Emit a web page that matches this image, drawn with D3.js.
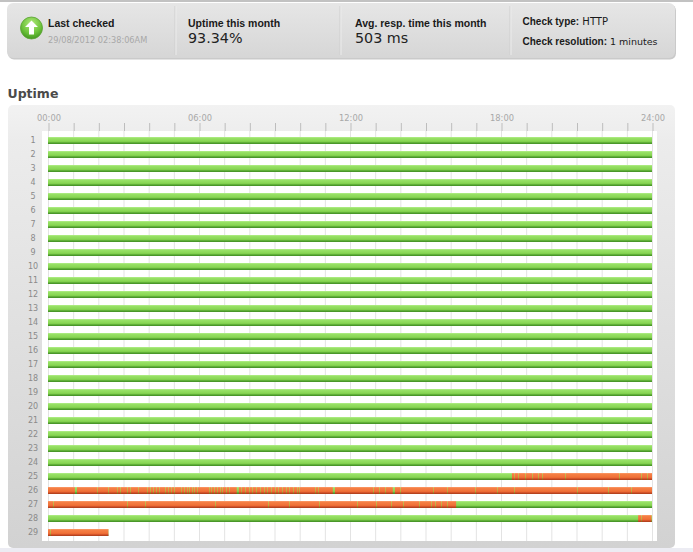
<!DOCTYPE html>
<html>
<head>
<meta charset="utf-8">
<script src="https://cdn.jsdelivr.net/npm/d3@7"></script>
<style>
  body { margin: 0; background: #fff; }
  svg { display: block; }
</style>
</head>
<body>
<svg id="chart" width="693" height="552"></svg>
<script>
// ---- data (minutes of the day) ----
const dayLabels = [1, 2, 3, 4, 5, 6, 7, 8, 9, 10, 11, 12, 13, 14, 15, 16, 17, 18, 19, 20,
                   21, 22, 23, 24, 25, 26, 27, 28, 29];
const dayMinutes = 1440;
const lastDay = 29;
const lastDayEnd = 144;          // checks for the 29th stop at 02:24

const hourTicks = [0, 60, 120, 180, 240, 300, 360, 420, 480, 540, 600, 660, 720,
                   780, 840, 900, 960, 1020, 1080, 1140, 1200, 1260, 1320, 1380, 1440];
const hourLabels = { 0: '00:00', 360: '06:00', 720: '12:00', 1080: '18:00', 1440: '24:00' };

// down periods per day
const outageDays  = [25, 26, 27, 28, 29];
const outageStart = [1106, 0, 0, 1407, 0];
const outageEnd   = [1440, 1440, 973, 1440, 144];

// short "up" blips inside the down periods (about a minute each)
const blips25 = [1112, 1121, 1137, 1155, 1168, 1178, 1232, 1362, 1413, 1428];
const blips26 = [117, 143, 164, 172, 189, 195, 215, 237, 243, 250, 257, 265, 279, 287, 293,
                 300, 316, 324, 331, 337, 343, 349, 356, 383, 389, 396, 403, 410, 416, 424,
                 432, 459, 470, 480, 487, 496, 506, 515, 523, 531, 541, 549, 559, 567, 575,
                 585, 593, 599, 637, 644, 776, 790, 803, 840, 917, 952, 1017, 1071, 1112,
                 1260, 1336, 1389];
const blips27 = [13, 188, 231, 397, 524, 574, 646, 736, 781, 817, 847, 885, 912, 923, 936, 951];
const blips28 = [1413, 1437];
const blips29 = [5];
const blipDays = [25, 26, 27, 28, 29];
const blipLists = [blips25, blips26, blips27, blips28, blips29];
// longer up periods on the 26th
const longBlips26 = [64, 450, 679, 822];
const longBlipLength = 5;

// ---- layout ----
const svg = d3.select('#chart');
const W = 693;
const plot = { left: 42, right: 657, top: 131, bottom: 541 };

const x = d3.scaleLinear().domain([0, dayMinutes]).range([48, 652]);
const y = d3.scaleBand().domain(dayLabels).range([133.5, 539.5])
    .paddingInner(0.5).paddingOuter(0.25);

const defs = svg.append('defs');
function vGrad(id, stops) {
    const g = defs.append('linearGradient').attr('id', id)
        .attr('x1', 0).attr('y1', 0).attr('x2', 0).attr('y2', 1);
    stops.forEach(s => g.append('stop').attr('offset', s[0]).attr('stop-color', s[1]));
}
vGrad('g-up', [[0, '#b4ef8c'], [0.18, '#98e166'], [0.62, '#87d552'], [0.78, '#62b139'], [1, '#3e8a22']]);
vGrad('g-down', [[0, '#fb9d6c'], [0.18, '#f57f45'], [0.62, '#f07036'], [0.78, '#d6552b'], [1, '#a63a18']]);
vGrad('g-blip', [[0, '#dccb80'], [0.18, '#c9b84e'], [0.62, '#bdab40'], [0.78, '#a08a2c'], [1, '#7a6418']]);
vGrad('g-head', [[0, '#e6e6e6'], [1, '#d6d6d6']]);
vGrad('g-panel', [[0, '#f2f2f2'], [0.08, '#ececec'], [1, '#d2d2d2']]);
const rg = defs.append('radialGradient').attr('id', 'g-icon')
    .attr('cx', 0.5).attr('cy', 0.3).attr('r', 0.75);
rg.append('stop').attr('offset', 0).attr('stop-color', '#b2ea7c');
rg.append('stop').attr('offset', 0.6).attr('stop-color', '#6cc23a');
rg.append('stop').attr('offset', 1).attr('stop-color', '#3b8f1c');

// ---- header strip ----
svg.append('rect').attr('x', 0).attr('y', 0).attr('width', W).attr('height', 2).attr('fill', '#c2c2c2');
svg.append('rect').attr('x', 8).attr('y', 4.5).attr('width', 668).attr('height', 55)
    .attr('rx', 6).attr('fill', '#cacaca');
svg.append('rect').attr('x', 7).attr('y', 3).attr('width', 668).attr('height', 55)
    .attr('rx', 6).attr('fill', 'url(#g-head)');
[175, 340, 510].forEach(d => {
    svg.append('line').attr('x1', d).attr('x2', d).attr('y1', 6).attr('y2', 55)
        .attr('stroke', '#cfcfcf');
    svg.append('line').attr('x1', d + 1).attr('x2', d + 1).attr('y1', 6).attr('y2', 55)
        .attr('stroke', '#ececec');
});

// status icon
svg.append('circle').attr('cx', 31.5).attr('cy', 28).attr('r', 11)
    .attr('fill', 'url(#g-icon)').attr('stroke', '#5aa234').attr('stroke-width', 0.8);
svg.append('path').attr('d', 'M31.5,20.5 L38,27 L34,27 L34,34.5 L29,34.5 L29,27 L25,27 Z')
    .attr('fill', '#fff');

const bold = 'Liberation Sans, Arial, sans-serif';
const reg = 'DejaVu Sans, Verdana, sans-serif';
function txt(t, px, py, size, weight, fill, family) {
    return svg.append('text').attr('x', px).attr('y', py)
        .style('font-family', family).style('font-size', size + 'px')
        .style('font-weight', weight).attr('fill', fill).text(t);
}
txt('Last checked', 48, 26.5, 10.5, 'bold', '#1a1a1a', bold);
txt('29/08/2012 02:38:06AM', 48, 42.7, 8.2, 'normal', '#a8a8a8', reg);
txt('Uptime this month', 188, 26.5, 10.5, 'bold', '#1a1a1a', bold);
txt('93.34%', 188, 42.7, 14.3, 'normal', '#222', reg);
txt('Avg. resp. time this month', 355, 26.5, 10.5, 'bold', '#1a1a1a', bold);
txt('503 ms', 355, 42.5, 14.3, 'normal', '#222', reg);

const ct = txt('Check type:', 522.5, 24.5, 10, 'bold', '#1a1a1a', bold);
ct.append('tspan').style('font-family', reg).style('font-weight', 'normal')
    .style('font-size', '10px').text(' HTTP');
const cr = txt('Check resolution:', 522.5, 44.5, 10, 'bold', '#1a1a1a', bold);
cr.append('tspan').style('font-family', reg).style('font-weight', 'normal')
    .style('font-size', '9.5px').text(' 1 minutes');

// ---- uptime panel ----
txt('Uptime', 7.5, 97.5, 12.5, 'bold', '#4a4a4a', reg);

svg.append('rect').attr('x', 0).attr('y', 548).attr('width', W).attr('height', 4).attr('fill', '#ececf3');
svg.append('rect').attr('x', 8).attr('y', 105).attr('width', 667).attr('height', 443)
    .attr('rx', 5).attr('fill', 'url(#g-panel)');
svg.append('rect').attr('x', plot.left).attr('y', plot.top)
    .attr('width', plot.right - plot.left).attr('height', plot.bottom - plot.top)
    .attr('fill', '#fff');

// hour grid
svg.append('g').selectAll('line').data(hourTicks).join('line')
    .attr('x1', d => x(d) + 0.5).attr('x2', d => x(d) + 0.5)
    .attr('y1', plot.top).attr('y2', plot.bottom)
    .attr('stroke', '#e3e3e3');

// top time axis
const xAxis = svg.append('g').attr('transform', `translate(0.5,${plot.top})`)
    .call(d3.axisTop(x).tickValues(hourTicks).tickSize(8).tickPadding(2)
        .tickFormat(d => hourLabels[d] || ''));
xAxis.select('.domain').remove();
xAxis.selectAll('line').attr('stroke', '#bdbdbd');
xAxis.selectAll('text').attr('fill', '#a8a8a8')
    .style('font-family', reg).style('font-size', '8.3px');

// day labels
const yAxis = svg.append('g').attr('transform', `translate(${plot.left},0)`)
    .call(d3.axisLeft(y).tickSize(0).tickPadding(9));
yAxis.select('.domain').remove();
yAxis.selectAll('text').attr('text-anchor', 'middle').attr('dy', '0.34em')
    .attr('fill', '#8a8a8a').style('font-family', reg).style('font-size', '8px');

// base up bars
const bars = svg.append('g');
bars.selectAll('rect.up').data(dayLabels).join('rect').attr('class', 'up')
    .attr('x', x(0)).attr('y', d => y(d))
    .attr('width', d => x(d === lastDay ? lastDayEnd : dayMinutes) - x(0))
    .attr('height', y.bandwidth()).attr('fill', 'url(#g-up)');

// down periods
bars.selectAll('rect.down').data(outageDays).join('rect').attr('class', 'down')
    .attr('x', (d, i) => x(outageStart[i])).attr('y', d => y(d))
    .attr('width', (d, i) => x(outageEnd[i]) - x(outageStart[i]))
    .attr('height', y.bandwidth()).attr('fill', 'url(#g-down)');

// longer up periods
bars.selectAll('rect.long').data(longBlips26).join('rect').attr('class', 'long')
    .attr('x', d => x(d)).attr('y', y(26))
    .attr('width', d => x(d + longBlipLength) - x(d))
    .attr('height', y.bandwidth()).attr('fill', 'url(#g-up)');

// one-minute up blips: under a pixel wide, drawn as a 1px blended line
const blipData = [];
blipDays.forEach((day, i) => blipLists[i].forEach(m => blipData.push({ day, m })));
bars.selectAll('rect.blip').data(blipData).join('rect').attr('class', 'blip')
    .attr('x', d => Math.round(x(d.m))).attr('y', d => y(d.day))
    .attr('width', 1)
    .attr('height', y.bandwidth()).attr('fill', 'url(#g-blip)');
</script>
</body>
</html>
